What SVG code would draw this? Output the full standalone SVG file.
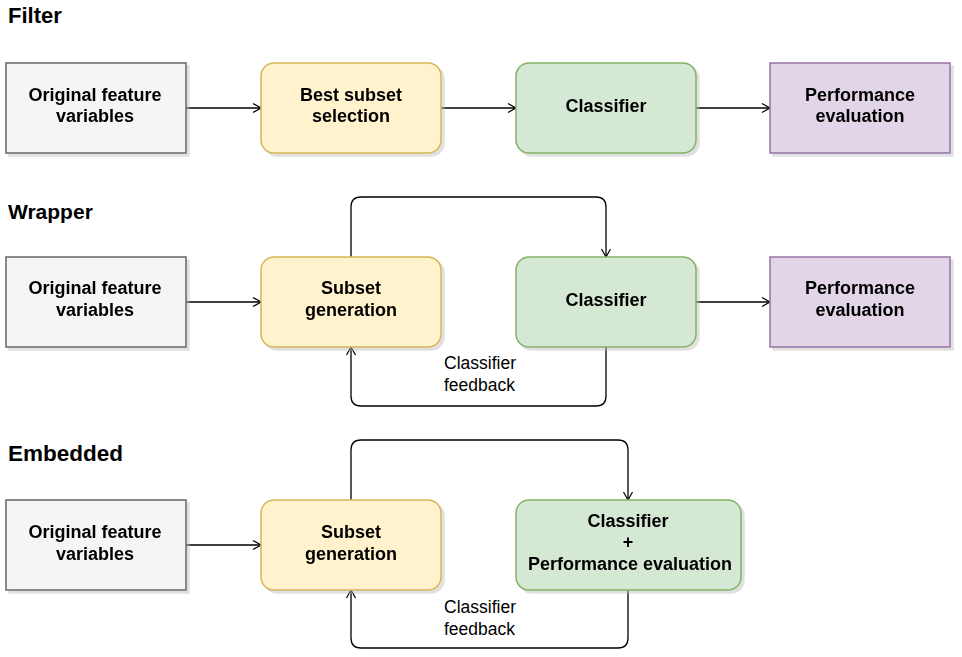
<svg xmlns="http://www.w3.org/2000/svg" width="962" height="657" viewBox="0 0 962 657">
<defs>
<marker id="arr" markerWidth="12" markerHeight="12" refX="10" refY="6" orient="auto" markerUnits="userSpaceOnUse">
<path d="M2,1.5 L10,6 L2,10.5" fill="none" stroke="#000" stroke-width="1.2"/>
</marker>
<filter id="sh" x="-10%" y="-10%" width="130%" height="130%">
<feOffset dx="3" dy="3" in="SourceAlpha" result="o"/>
<feColorMatrix in="o" type="matrix" values="0 0 0 0 0.5 0 0 0 0 0.5 0 0 0 0 0.5 0 0 0 0.45 0" result="c"/>
<feMerge><feMergeNode in="c"/><feMergeNode in="SourceGraphic"/></feMerge>
</filter>
</defs>
<style>
.t{font-family:"Liberation Sans",Arial,sans-serif;font-weight:bold;fill:#000;}
.n{font-family:"Liberation Sans",Arial,sans-serif;font-weight:bold;font-size:18px;fill:#000;text-anchor:middle;}
.l{font-family:"Liberation Sans",Arial,sans-serif;font-size:17.5px;fill:#000;}
.gray{fill:#f5f5f5;stroke:#666666;stroke-width:1.5;}
.yel{fill:#fff2cc;stroke:#d6b656;stroke-width:1.5;}
.grn{fill:#d5e8d4;stroke:#82b366;stroke-width:1.5;}
.pur{fill:#e1d5e7;stroke:#9673a6;stroke-width:1.5;}
.e{fill:none;stroke:#000;stroke-width:1.3;marker-end:url(#arr);}
</style>
<rect width="962" height="657" fill="#fff"/>
<text class="t" x="8" y="23" font-size="22">Filter</text>
<text class="t" x="8" y="219" font-size="21">Wrapper</text>
<text class="t" x="8" y="461" font-size="22.5">Embedded</text>

<g id="connectors">
<path class="e" d="M186,108 H261"/>
<path class="e" d="M441,108 H516"/>
<path class="e" d="M696,108 H770"/>
<path class="e" d="M186,302 H261"/>
<path class="e" d="M351,257 V207 Q351,197 361,197 H596 Q606,197 606,207 V257"/>
<path class="e" d="M606,347 V396 Q606,406 596,406 H361 Q351,406 351,396 V347"/>
<path class="e" d="M696,302 H770"/>
<path class="e" d="M186,545 H261"/>
<path class="e" d="M351,500 V450 Q351,440 361,440 H618 Q628,440 628,450 V500"/>
<path class="e" d="M628,590 V638 Q628,648 618,648 H361 Q351,648 351,638 V590"/>
<text class="l" x="444" y="369">Classifier</text>
<text class="l" x="444" y="391">feedback</text>
<text class="l" x="444" y="613">Classifier</text>
<text class="l" x="444" y="635">feedback</text>
</g>

<g id="f-orig" filter="url(#sh)"><rect class="gray" x="6" y="63" width="180" height="90"/><text class="n" x="95" y="101">Original feature</text><text class="n" x="95" y="122">variables</text></g>
<g id="f-best" filter="url(#sh)"><rect class="yel" x="261" y="63" width="180" height="90" rx="13"/><text class="n" x="351" y="101">Best subset</text><text class="n" x="351" y="122">selection</text></g>
<g id="f-clf" filter="url(#sh)"><rect class="grn" x="516" y="63" width="180" height="90" rx="13"/><text class="n" x="606" y="112">Classifier</text></g>
<g id="f-perf" filter="url(#sh)"><rect class="pur" x="770" y="63" width="180" height="90"/><text class="n" x="860" y="101">Performance</text><text class="n" x="860" y="122">evaluation</text></g>

<g id="w-orig" filter="url(#sh)"><rect class="gray" x="6" y="257" width="180" height="90"/><text class="n" x="95" y="294">Original feature</text><text class="n" x="95" y="316">variables</text></g>
<g id="w-sub" filter="url(#sh)"><rect class="yel" x="261" y="257" width="180" height="90" rx="13"/><text class="n" x="351" y="294">Subset</text><text class="n" x="351" y="316">generation</text></g>
<g id="w-clf" filter="url(#sh)"><rect class="grn" x="516" y="257" width="180" height="90" rx="13"/><text class="n" x="606" y="306">Classifier</text></g>
<g id="w-perf" filter="url(#sh)"><rect class="pur" x="770" y="257" width="180" height="90"/><text class="n" x="860" y="294">Performance</text><text class="n" x="860" y="316">evaluation</text></g>

<g id="e-orig" filter="url(#sh)"><rect class="gray" x="6" y="500" width="180" height="90"/><text class="n" x="95" y="538">Original feature</text><text class="n" x="95" y="560">variables</text></g>
<g id="e-sub" filter="url(#sh)"><rect class="yel" x="261" y="500" width="180" height="90" rx="13"/><text class="n" x="351" y="538">Subset</text><text class="n" x="351" y="560">generation</text></g>
<g id="e-clf" filter="url(#sh)"><rect class="grn" x="516" y="500" width="225" height="90" rx="13"/><text class="n" x="628" y="527">Classifier</text><text class="n" x="628" y="548">+</text><text class="n" x="630" y="570">Performance evaluation</text></g>
</svg>
